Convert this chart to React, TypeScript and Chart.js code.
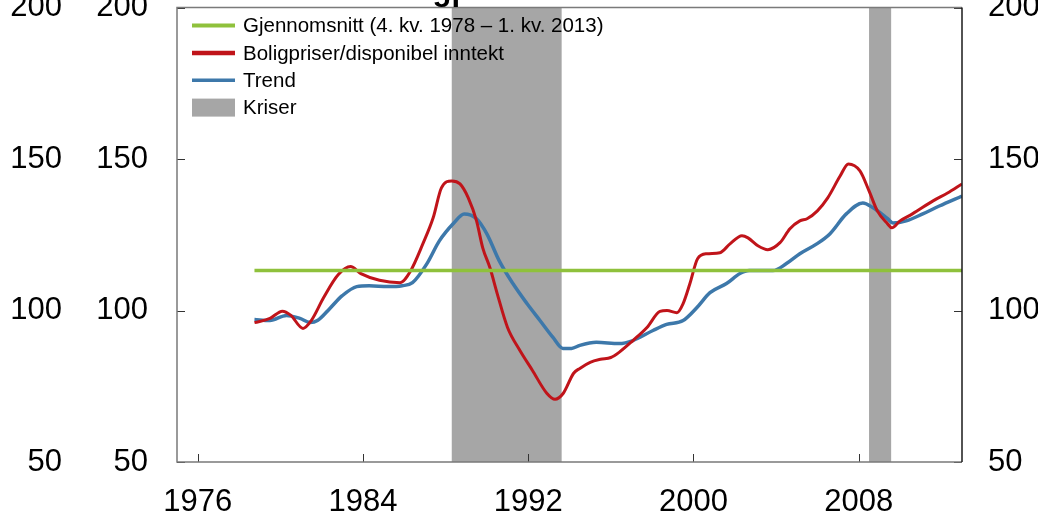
import React, { useEffect, useRef } from "react";
import { Chart, registerables } from "chart.js";

Chart.register(...registerables);

// ---------- data ----------
const xMin = 1975;
const xMax = 2013;
const xTickYears = [1976, 1984, 1992, 2000, 2008];
const yTickValues = [50, 100, 150, 200];

const priceLabel = "Boligpriser/disponibel inntekt";
const priceYears = [
  1978.75, 1979.5, 1980.1, 1980.5, 1981.1, 1981.5, 1982.1, 1982.8, 1983.4, 1983.9,
  1984.8, 1985.8, 1986.3, 1986.9, 1987.4, 1987.8, 1988.3, 1988.7, 1989.1, 1989.5,
  1989.8, 1990.15, 1990.5, 1991.0, 1991.6, 1992.2, 1992.9, 1993.3, 1993.7, 1994.2,
  1994.5, 1995.0, 1995.5, 1996.0, 1996.4, 1997.07, 1997.75, 1998.38, 1998.72, 1999.2,
  1999.5, 1999.83, 2000.2, 2000.65, 2001.28, 2001.77, 2002.35, 2002.64, 2003.12, 2003.6,
  2004.19, 2004.67, 2005.15, 2005.5, 2006.0, 2006.5, 2007.1, 2007.5, 2008.06, 2008.5,
  2008.9, 2009.4, 2009.6, 2010.0, 2010.6, 2011.6, 2012.3, 2013.0,
];
const priceValues = [
  96.0, 97.4, 99.8, 98.5, 94.1, 96.7, 104.3, 111.8, 114.5, 112.2,
  110.0, 109.2, 113.0, 122.0, 130.6, 140.5, 142.8, 141.8, 137.2, 129.6,
  120.7, 114.1, 105.6, 94.4, 86.8, 80.3, 72.7, 70.7, 72.7, 79.3,
  80.9, 82.9, 83.9, 84.5, 86.2, 90.1, 94.4, 99.7, 100.0, 99.3,
  102.3, 108.9, 117.1, 118.75, 119.1, 122.0, 124.7, 124.0, 121.4, 120.1,
  122.4, 127.0, 129.6, 130.3, 132.9, 137.2, 144.4, 148.4, 146.1, 139.5,
  132.9, 128.6, 127.3, 129.6, 131.9, 136.2, 138.8, 141.8,
];

const trendLabel = "Trend";
const trendYears = [
  1978.75, 1979.5, 1980.3, 1980.95, 1981.44, 1981.8, 1982.4, 1983.0, 1983.7, 1984.3,
  1985.2, 1985.9, 1986.4, 1987.1, 1987.7, 1988.4, 1988.9, 1989.5, 1990.0, 1990.6,
  1991.26, 1991.94, 1992.57, 1993.2, 1993.68, 1994.1, 1994.5, 1995.3, 1996.4, 1997.07,
  1998.04, 1998.7, 1999.5, 2000.17, 2000.8, 2001.6, 2002.25, 2002.7, 2003.85, 2004.5,
  2005.15, 2005.97, 2006.6, 2007.4, 2008.2, 2008.7, 2009.4, 2009.66, 2010.3, 2011.1,
  2011.9, 2013.0,
];
const trendValues = [
  97.0, 96.7, 98.4, 97.4, 96.05, 96.7, 100.7, 104.9, 107.9, 108.2,
  107.9, 108.2, 109.2, 115.5, 123.0, 128.9, 131.9, 130.3, 125.3, 116.4,
  108.9, 102.3, 96.7, 91.1, 87.5, 87.5, 88.5, 89.5, 89.1, 90.1,
  93.4, 95.4, 96.7, 101.0, 105.9, 108.9, 112.2, 113.2, 113.2, 115.5,
  118.75, 122.0, 125.3, 131.9, 135.5, 133.9, 130.3, 128.9, 129.6, 131.9,
  134.5, 137.8,
];

const averageLabel = "Gjennomsnitt (4. kv. 1978 \u2013 1. kv. 2013)";
const averageYears = [1978.75, 2013.0];
const averageValue = 113.2;

const crisisLabel = "Kriser";
const crisisStarts = [1988.3, 2008.5];
const crisisEnds = [1993.62, 2009.57];

const titleText = "Boligpriser";

// ---------- styles ----------
const FONT = "'Liberation Sans', Arial, Helvetica, sans-serif";
const GREEN = "#8fc13c";
const RED = "#c0141a";
const BLUE = "#3d78aa";
const GRAY = "#a6a6a6";

const CANVAS_W = 1100;
const CANVAS_H = 560;
const CANVAS_TOP = -40;

const bandsPlugin = {
  id: "bands",
  beforeDatasetsDraw(chart: any) {
    const { ctx, chartArea } = chart;
    const xs = chart.scales.x;
    ctx.save();
    ctx.fillStyle = GRAY;
    crisisStarts.forEach((s, i) => {
      const x0 = xs.getPixelForValue(s);
      const x1 = xs.getPixelForValue(crisisEnds[i]);
      ctx.fillRect(x0, chartArea.top, x1 - x0, chartArea.bottom - chartArea.top);
    });
    ctx.restore();
  },
};

const framePlugin = {
  id: "frame",
  afterDatasetsDraw(chart: any) {
    const { ctx, chartArea } = chart;
    const { left, right, top, bottom } = chartArea;
    const xs = chart.scales.x;
    const ys = chart.scales.y;
    ctx.save();
    // ticks
    ctx.strokeStyle = "#333";
    ctx.lineWidth = 1;
    ctx.beginPath();
    xTickYears.forEach((v) => {
      const px = Math.round(xs.getPixelForValue(v)) + 0.5;
      ctx.moveTo(px, bottom);
      ctx.lineTo(px, bottom - 8);
    });
    yTickValues.forEach((v) => {
      const py = Math.round(ys.getPixelForValue(v)) + 0.5;
      ctx.moveTo(left, py);
      ctx.lineTo(left + 8, py);
      ctx.moveTo(right, py);
      ctx.lineTo(right - 8, py);
    });
    ctx.stroke();
    // frame
    ctx.lineWidth = 1.5;
    ctx.strokeStyle = "#7a7a7a";
    ctx.beginPath();
    ctx.moveTo(right, top);
    ctx.lineTo(left, top);
    ctx.lineTo(left, bottom);
    ctx.lineTo(right, bottom);
    ctx.stroke();
    ctx.strokeStyle = "#1a1a1a";
    ctx.beginPath();
    ctx.moveTo(right, top);
    ctx.lineTo(right, bottom);
    ctx.stroke();

    // legend
    const items = chart.data.datasets.map((d: any) => ({
      label: d.label,
      color: d.borderColor,
      width: d.legendWidth,
    }));
    const x0 = left + 15;
    const x1 = left + 58;
    const tx = left + 66;
    const rows = [top + 18, top + 45.3, top + 72.6, top + 100];
    ctx.font = `20.5px ${FONT}`;
    ctx.textBaseline = "middle";
    ctx.textAlign = "left";
    const order = [items[0], items[1], items[2]];
    order.forEach((it: any, i: number) => {
      ctx.strokeStyle = it.color;
      ctx.lineWidth = it.width;
      ctx.beginPath();
      ctx.moveTo(x0, rows[i]);
      ctx.lineTo(x1, rows[i]);
      ctx.stroke();
      ctx.fillStyle = "#000";
      ctx.fillText(it.label, tx, rows[i] + 1);
    });
    ctx.fillStyle = GRAY;
    ctx.fillRect(x0, rows[3] - 9, x1 - x0, 18);
    ctx.fillStyle = "#000";
    ctx.fillText(crisisLabel, tx, rows[3] + 1);

    // title (mostly cropped above the visible area)
    ctx.font = `bold 31px ${FONT}`;
    ctx.textBaseline = "alphabetic";
    ctx.fillText(titleText, 374, top - 8);
    ctx.restore();
  },
};

const tickFont = { family: FONT, size: 31 };

function yAxis(position: string, weight: number, width: number, padding: number) {
  return {
    type: "linear",
    position,
    weight,
    min: 50,
    max: 200,
    grid: { display: false, drawTicks: false },
    border: { display: false },
    ticks: {
      padding,
      font: tickFont,
      color: "#000",
      callback: (v: any) => String(v),
    },
    afterBuildTicks: (s: any) => {
      s.ticks = yTickValues.map((v) => ({ value: v }));
    },
    afterFit: (s: any) => {
      s.width = width;
    },
  };
}

export default function App() {
  const ref = useRef<HTMLCanvasElement | null>(null);

  useEffect(() => {
    if (!ref.current) return;
    const chart = new Chart(ref.current, {
      type: "line",
      data: {
        datasets: [
          {
            label: averageLabel,
            data: averageYears.map((x) => ({ x, y: averageValue })),
            borderColor: GREEN,
            borderWidth: 3.5,
            pointRadius: 0,
            legendWidth: 4,
            yAxisID: "y",
          } as any,
          {
            label: priceLabel,
            data: priceYears.map((x, i) => ({ x, y: priceValues[i] })),
            borderColor: RED,
            borderWidth: 3,
            pointRadius: 0,
            cubicInterpolationMode: "monotone",
            legendWidth: 4.5,
            yAxisID: "y",
          } as any,
          {
            label: trendLabel,
            data: trendYears.map((x, i) => ({ x, y: trendValues[i] })),
            borderColor: BLUE,
            borderWidth: 3.5,
            pointRadius: 0,
            cubicInterpolationMode: "monotone",
            legendWidth: 3.5,
            yAxisID: "y",
          } as any,
        ],
      },
      options: {
        responsive: false,
        animation: false,
        events: [],
        layout: { padding: { top: 46, left: 0, right: 0, bottom: 0 } },
        plugins: {
          legend: { display: false },
          tooltip: { enabled: false },
          title: { display: false },
        },
        scales: {
          x: {
            type: "linear",
            position: "bottom",
            min: xMin,
            max: xMax,
            grid: { display: false, drawTicks: false },
            border: { display: false },
            ticks: {
              padding: 22,
              font: tickFont,
              color: "#000",
              autoSkip: false,
              maxRotation: 0,
              callback: (v: any) => String(v),
            },
            afterBuildTicks: (s: any) => {
              s.ticks = xTickYears.map((v) => ({ value: v }));
            },
            afterFit: (s: any) => {
              s.height = 58;
            },
          },
          yOuter: yAxis("left", 2, 80, 18),
          y: yAxis("left", 1, 97, 29),
          yRight: yAxis("right", 1, 138, 26),
        } as any,
      },
      plugins: [bandsPlugin, framePlugin],
    });
    return () => chart.destroy();
  }, []);

  return (
    <div
      style={{
        position: "fixed",
        left: 0,
        top: 0,
        width: "100vw",
        height: "100vh",
        overflow: "hidden",
        background: "#fff",
      }}
    >
      <canvas
        ref={ref}
        width={CANVAS_W}
        height={CANVAS_H}
        style={{ position: "absolute", left: 0, top: CANVAS_TOP, width: CANVAS_W, height: CANVAS_H }}
      />
    </div>
  );
}
